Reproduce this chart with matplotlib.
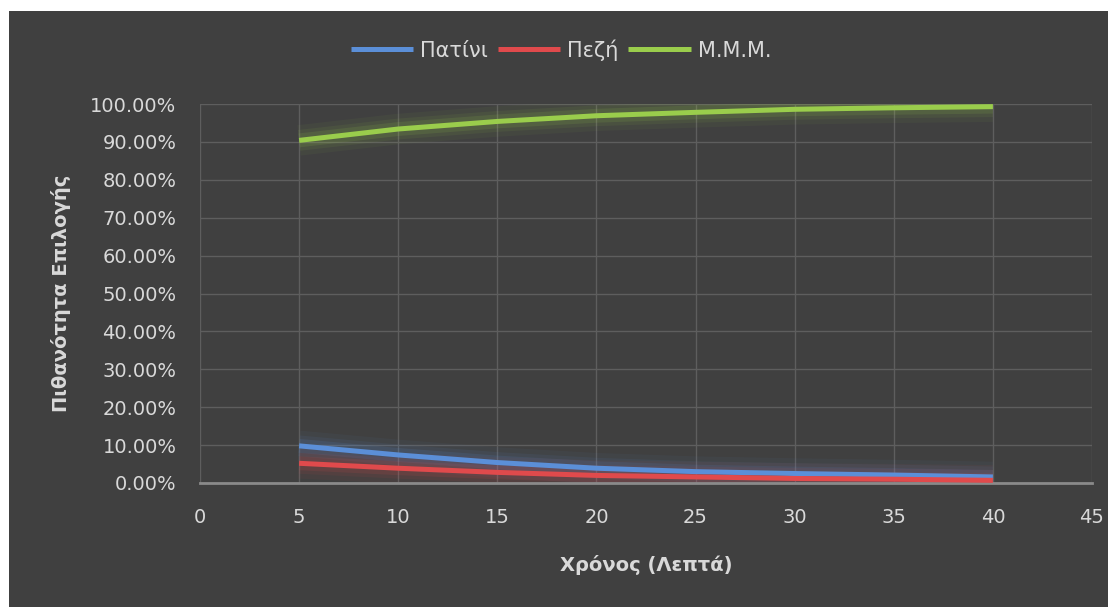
import matplotlib.pyplot as plt
from matplotlib.ticker import FuncFormatter

# minutes
xronos = [5, 10, 15, 20, 25, 30, 35, 40]
# probabilities (%)
patini = [9.8, 7.4, 5.4, 3.9, 3.0, 2.5, 2.1, 1.6]
pezi = [5.2, 3.9, 2.8, 2.0, 1.6, 1.2, 1.0, 0.7]
mmm = [90.4, 93.4, 95.4, 96.9, 97.8, 98.6, 99.0, 99.3]

bg = "#404040"
txt = "#d9d9d9"
grid = "#5e5e5e"

plt.rcParams['font.family'] = ['DejaVu Sans']

fig = plt.figure(figsize=(11.08, 6.07), dpi=100)
fig.patch.set_facecolor("white")

# dark chart area, white border on top/left
back = fig.add_axes([9/1108, 0, 1 - 9/1108, 1 - 11/607], zorder=-10)
back.set_facecolor(bg)
back.set_xticks([])
back.set_yticks([])
for s in back.spines.values():
    s.set_visible(False)

ax = fig.add_axes([200/1108, 1 - 483/607, 892/1108, 379/607], zorder=1)
ax.set_facecolor(bg)

series = [(patini, "Πατίνι", "#5b8fd8"),
          (pezi, "Πεζή", "#e04a4c"),
          (mmm, "Μ.Μ.Μ.", "#9acd4c")]

for vals, name, col in series:
    # soft glow round each line
    for lw, a in [(22, 0.05), (15, 0.08), (10, 0.12)]:
        ax.plot(xronos, vals, color=col, lw=lw, alpha=a,
                solid_capstyle="butt", zorder=2)
    ax.plot(xronos, vals, color=col, lw=3.6, label=name,
            solid_capstyle="butt", zorder=3)

ax.set_xlim(0, 45)
ax.set_ylim(0, 100)
ax.set_xticks(range(0, 46, 5))
ax.set_yticks(range(0, 101, 10))
ax.yaxis.set_major_formatter(FuncFormatter(lambda v, p: "%.2f%%" % v))

ax.grid(True, color=grid, lw=1.0)
ax.set_axisbelow(True)
for s in ["top", "right", "left"]:
    ax.spines[s].set_visible(False)
ax.spines["bottom"].set_color("#8a8a8a")
ax.spines["bottom"].set_linewidth(2)

ax.tick_params(colors=txt, labelsize=14, length=0)
ax.tick_params(axis="y", pad=17)
ax.tick_params(axis="x", pad=18)

ax.set_xlabel("Χρόνος (Λεπτά)", color=txt, fontsize=14, fontweight="bold",
              labelpad=20)
ax.set_ylabel("Πιθανότητα Επιλογής", color=txt, fontsize=14,
              fontweight="bold", labelpad=14)

leg = fig.legend(loc="center", bbox_to_anchor=(561/1108, 1 - 50/607),
                 ncol=3, frameon=False, fontsize=15, handlelength=3.0,
                 handletextpad=0.35, columnspacing=0.45)
for t in leg.get_texts():
    t.set_color(txt)

fig.savefig("out.png", dpi=100, facecolor=fig.get_facecolor())
